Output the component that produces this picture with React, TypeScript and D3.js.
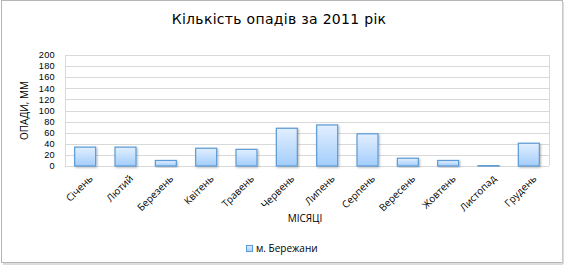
import React from "react";
import * as d3 from "d3";

const months = ["Січень","Лютий","Березень","Квітень","Травень","Червень","Липень","Серпень","Вересень","Жовтень","Листопад","Грудень"];
const precipitation = [34, 34, 10, 32, 30, 68, 74, 58, 14, 10, 1, 41];
const yTicks = [0, 20, 40, 60, 80, 100, 120, 140, 160, 180, 200];
const title = "Кількість опадів за 2011 рік";
const yTitle = "ОПАДИ, ММ";
const xTitle = "МІСЯЦІ";
const seriesName = "м. Бережани";

const W = 565, H = 265;
const plot = { left: 65, right: 549, top: 55, bottom: 166 };
const font = "'Open Sans', 'DejaVu Sans', sans-serif";

export default function App() {
  const x = d3.scaleBand<string>().domain(months).range([plot.left, plot.right]).paddingInner(0.48).paddingOuter(0.24);
  const y = d3.scaleLinear().domain([0, 200]).range([plot.bottom, plot.top]);
  const bw = x.bandwidth();
  return (
    <svg width={W} height={H} style={{ position: "absolute", left: 0, top: 0 }}>
      <defs>
        <linearGradient id="barGrad" x1="0" y1="0" x2="0" y2="1">
          <stop offset="0%" stopColor="#e2efff" />
          <stop offset="100%" stopColor="#a3cdfb" />
        </linearGradient>
        <filter id="sh" x="-20%" y="-20%" width="140%" height="140%">
          <feGaussianBlur in="SourceAlpha" stdDeviation="0.8" />
          <feOffset dx="0.8" dy="0.8" result="b" />
          <feComponentTransfer><feFuncA type="linear" slope="0.3" /></feComponentTransfer>
          <feMerge><feMergeNode /><feMergeNode in="SourceGraphic" /></feMerge>
        </filter>
      </defs>
      <rect x={0} y={0} width={W} height={H} fill="#fff" />
      <rect x={1.5} y={0.5} width={561} height={262} fill="#fff" stroke="#b5b5b5" strokeWidth={1} />
      <line x1={563} y1={2} x2={563} y2={264} stroke="#d0d0d0" strokeWidth={1.5} />
      <line x1={3} y1={264} x2={563} y2={264} stroke="#d0d0d0" strokeWidth={1.5} />
      <text x={279} y={24} textAnchor="middle" fontFamily="'DejaVu Sans', sans-serif" fontSize={14} letterSpacing={0.3} fill="#000">{title}</text>
      {yTicks.map(t => (
        <g key={t}>
          <line x1={plot.left} x2={plot.right} y1={Math.round(y(t)) + 0.5} y2={Math.round(y(t)) + 0.5} stroke="#d9d9d9" strokeWidth={1} />
          <text x={55} y={y(t) + 3.2} textAnchor="end" fontFamily="'Liberation Sans', Arial, sans-serif" fontSize={9.2} letterSpacing={0.3} fill="#000">{t}</text>
        </g>
      ))}
      <line x1={plot.left + 0.5} x2={plot.left + 0.5} y1={plot.top} y2={plot.bottom} stroke="#d9d9d9" />
      <line x1={plot.right + 0.5} x2={plot.right + 0.5} y1={plot.top} y2={plot.bottom} stroke="#d9d9d9" />
      {months.map((m, i) => (
        <rect key={m} x={x(m)!} y={y(precipitation[i])} width={bw} height={plot.bottom - y(precipitation[i])}
          fill="url(#barGrad)" stroke="#5b9bd5" strokeWidth={1.2} filter="url(#sh)" />
      ))}
      {months.map(m => {
        const cx = x(m)! + bw / 2 + 2;
        const cy = plot.bottom + 7;
        return (
          <text key={m} x={cx} y={cy} transform={`rotate(-45 ${cx} ${cy})`} textAnchor="end" dominantBaseline="hanging"
            fontFamily={font} fontSize={10} fill="#000">{m}</text>
        );
      })}
      <text transform={`translate(28 ${(plot.top + plot.bottom) / 2}) rotate(-90)`} textAnchor="middle"
        fontFamily={font} fontSize={10} fill="#000">{yTitle}</text>
      <text x={305} y={222} textAnchor="middle" fontFamily={font} fontSize={10} fill="#000">{xTitle}</text>
      <rect x={246.5} y={245.5} width={6} height={6} fill="url(#barGrad)" stroke="#5b9bd5" strokeWidth={1} />
      <text x={256} y={252} fontFamily={font} fontSize={10} fill="#000">{seriesName}</text>
    </svg>
  );
}
